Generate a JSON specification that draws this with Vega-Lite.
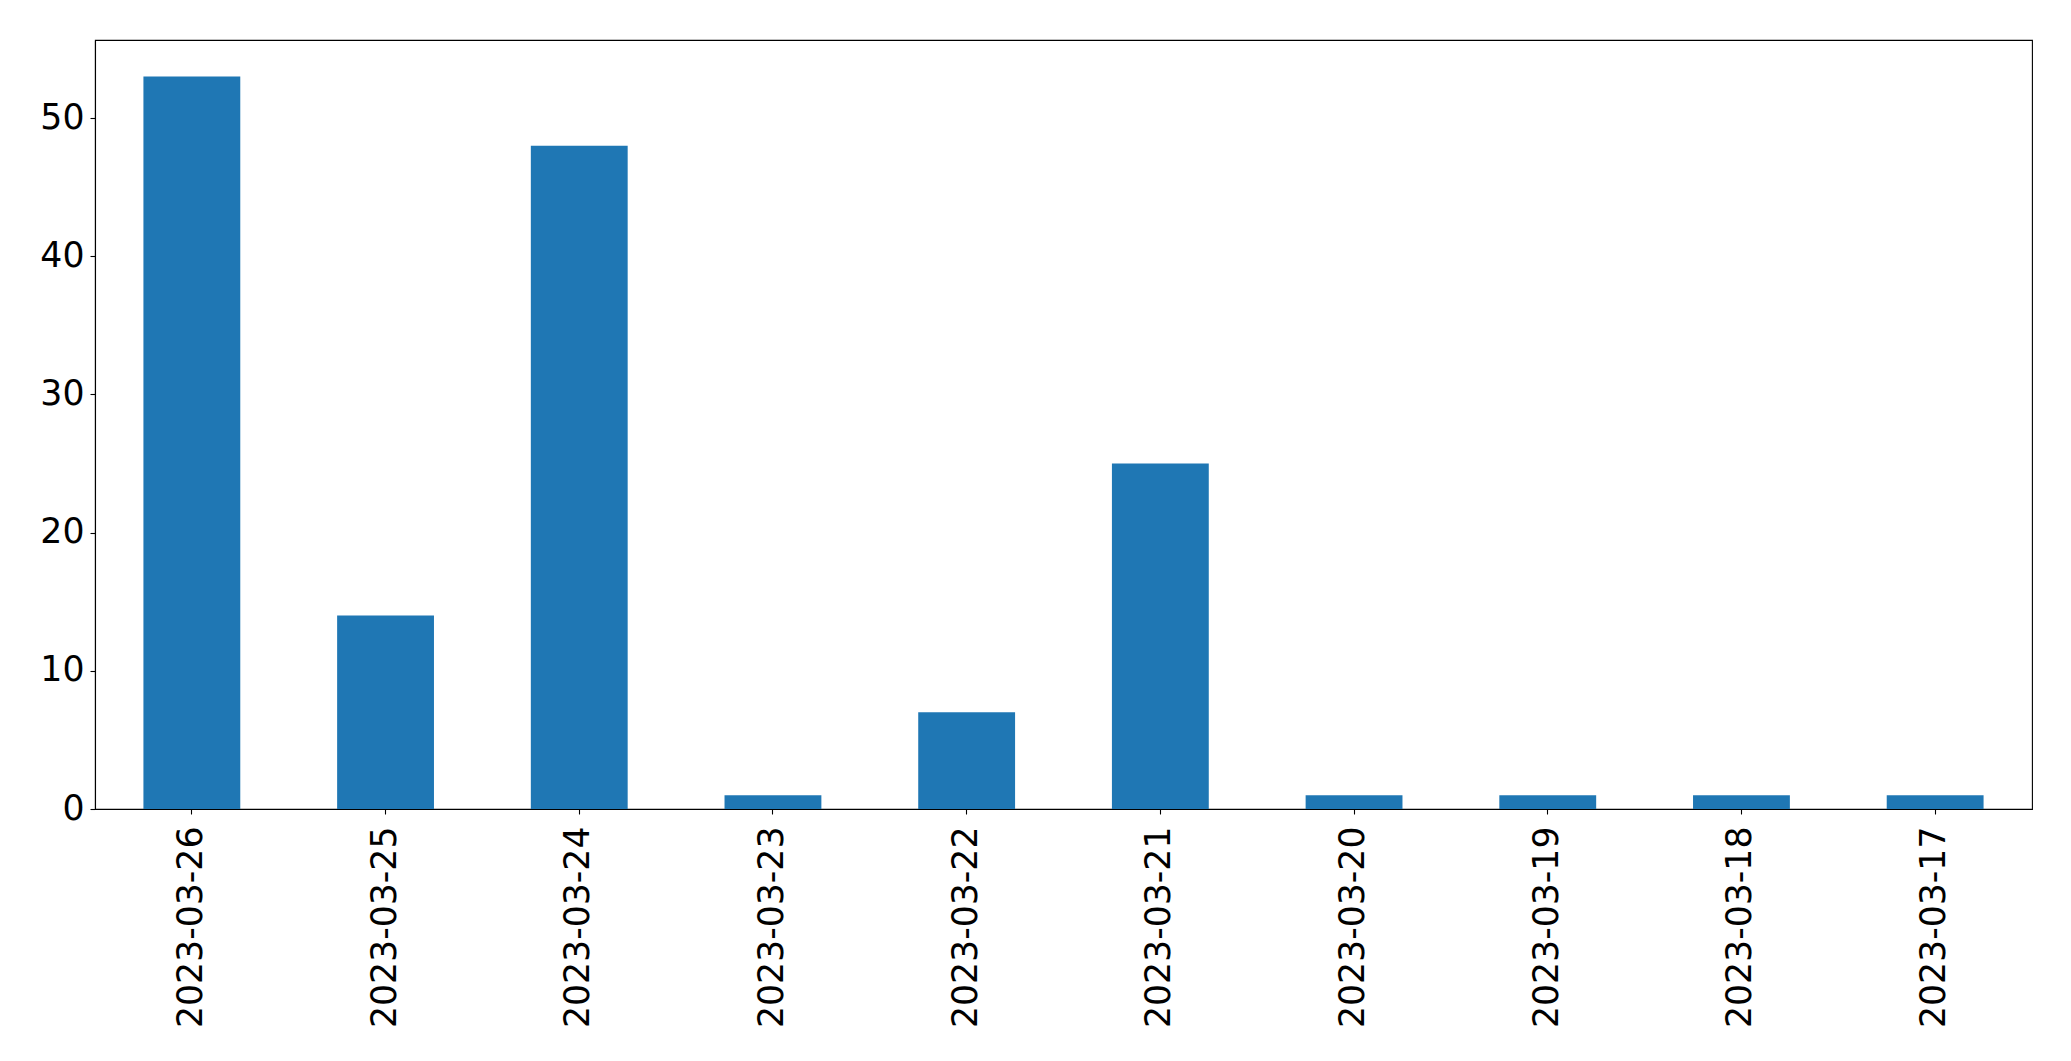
{
  "$schema": "https://vega.github.io/schema/vega-lite/v6.json",
  "autosize": {"type": "none"},
  "padding": {"left": 95, "top": 40, "right": 39, "bottom": 252},
  "width": 1937,
  "height": 769,
  "background": "white",
  "config": {
    "view": {"stroke": "black", "strokeWidth": 1.1},
    "font": "DejaVu Sans"
  },
  "data": {
    "values": [
      {"date": "2023-03-26", "count": 53},
      {"date": "2023-03-25", "count": 14},
      {"date": "2023-03-24", "count": 48},
      {"date": "2023-03-23", "count": 1},
      {"date": "2023-03-22", "count": 7},
      {"date": "2023-03-21", "count": 25},
      {"date": "2023-03-20", "count": 1},
      {"date": "2023-03-19", "count": 1},
      {"date": "2023-03-18", "count": 1},
      {"date": "2023-03-17", "count": 1}
    ]
  },
  "mark": {"type": "bar", "color": "#1f77b4"},
  "encoding": {
    "x": {
      "field": "date",
      "type": "nominal",
      "sort": null,
      "scale": {"paddingInner": 0.5, "paddingOuter": 0.25},
      "axis": {
        "title": null,
        "labelAngle": 270,
        "labelAlign": "right",
        "labelBaseline": "middle",
        "labelFont": "DejaVu Sans",
        "labelFontSize": 34.7,
        "labelLimit": 0,
        "labelColor": "black",
        "labelPadding": 12,
        "tickColor": "black",
        "tickSize": 5,
        "tickWidth": 1.1,
        "domainColor": "black",
        "domainWidth": 1.1,
        "grid": false
      }
    },
    "y": {
      "field": "count",
      "type": "quantitative",
      "scale": {"domain": [0, 55.65], "nice": false, "zero": true},
      "axis": {
        "title": null,
        "values": [0, 10, 20, 30, 40, 50],
        "labelFont": "DejaVu Sans",
        "labelFontSize": 34.7,
        "labelColor": "black",
        "labelPadding": 6,
        "tickColor": "black",
        "tickSize": 5,
        "tickWidth": 1.1,
        "domainColor": "black",
        "domainWidth": 1.1,
        "grid": false
      }
    }
  }
}
